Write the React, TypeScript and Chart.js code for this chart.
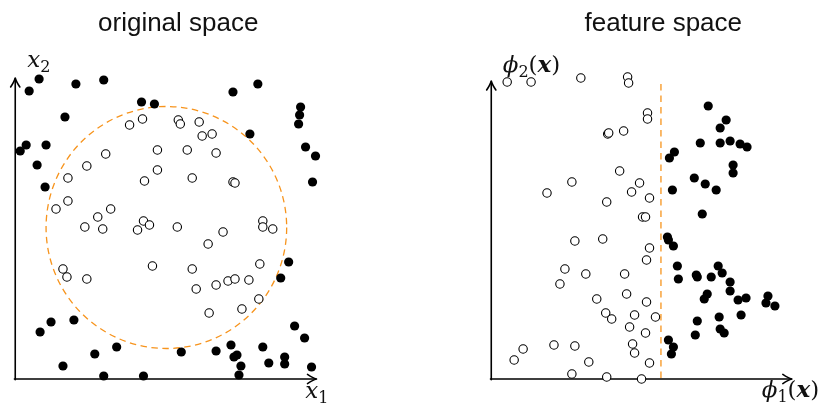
import React, { useEffect, useRef } from "react";
import { Chart, registerables } from "chart.js";

Chart.register(...registerables);

const W = 825;
const H = 405;

// ---------- original space (x1, x2) ----------
const origFilledX = [2.4, 1.4, 6.1, 8.9, 12.7, 14.0, 5.0, 1.1, 0.5, 3.1, 2.2, 3.0, 21.9, 24.4, 28.7, 28.6, 28.5, 23.6, 29.2, 30.2, 29.9, 3.6, 5.9, 2.5, 10.2, 8.0, 4.8, 8.9, 12.9, 27.5, 26.7, 28.1, 29.1, 16.7, 20.2, 21.7, 22.0, 22.3, 22.7, 22.5, 24.9, 25.5, 27.1, 27.1, 29.8];
const origFilledY = [30.0, 28.8, 29.5, 29.9, 27.7, 27.5, 26.2, 23.4, 22.8, 23.4, 21.4, 19.2, 28.7, 29.5, 27.2, 26.4, 25.5, 24.5, 23.2, 22.3, 19.7, 5.7, 5.9, 4.7, 3.2, 2.5, 1.3, 0.3, 0.3, 11.7, 10.1, 5.3, 4.1, 2.7, 2.8, 3.4, 2.2, 2.4, 1.3, 0.4, 3.2, 1.6, 2.2, 1.5, 1.2];
const origOpenX = [11.5, 12.8, 14.3, 9.1, 7.2, 14.3, 5.3, 13.0, 5.3, 4.1, 9.6, 8.3, 12.9, 13.5, 7.0, 8.8, 12.3, 13.8, 4.8, 5.2, 7.2, 16.4, 16.6, 18.5, 18.8, 19.8, 17.3, 20.2, 17.8, 21.9, 22.1, 24.9, 16.3, 20.9, 24.9, 25.9, 19.4, 17.8, 24.6, 18.2, 20.2, 21.4, 22.1, 23.5, 24.5, 19.5, 22.8];
const origOpenY = [25.4, 26.0, 22.9, 22.5, 21.3, 20.9, 20.1, 19.8, 17.8, 17.0, 17.0, 16.2, 15.8, 15.4, 15.2, 15.0, 14.9, 11.3, 11.0, 10.2, 10.0, 25.9, 25.5, 25.7, 24.3, 24.5, 22.9, 22.6, 20.1, 19.7, 19.6, 15.8, 15.2, 14.7, 15.2, 15.0, 13.5, 11.0, 11.5, 9.0, 9.4, 9.8, 10.0, 9.9, 8.0, 6.6, 7.0];

// decision boundary in original space: circle centre and radius
const circleCenter = [15.2, 15.15];
const circleRadius = 12.1;

// ---------- feature space (phi1, phi2) ----------
const featFilledX = [21.8, 23.6, 23.0, 21.0, 23.0, 24.0, 25.0, 25.7, 18.4, 17.9, 24.3, 24.3, 20.4, 21.5, 22.6, 18.2, 21.2, 17.7, 17.8, 18.3, 18.7, 18.8, 20.6, 20.7, 22.1, 22.8, 23.2, 24.0, 24.0, 21.7, 21.4, 24.8, 25.6, 27.8, 27.6, 28.5, 25.1, 22.9, 20.7, 23.0, 23.4, 20.5, 17.8, 18.3, 18.1];
const featFilledY = [27.3, 25.9, 25.1, 23.6, 23.6, 23.8, 23.5, 23.2, 22.7, 22.1, 21.4, 20.6, 20.1, 19.5, 18.9, 18.9, 16.5, 14.2, 13.9, 13.3, 11.3, 10.0, 10.4, 10.2, 10.2, 11.3, 10.6, 9.7, 8.8, 8.5, 8.0, 7.9, 8.1, 8.3, 7.6, 7.3, 6.4, 6.2, 5.8, 5.0, 4.6, 4.4, 3.9, 3.2, 2.5];
const featOpenX = [1.6, 4.0, 9.0, 13.7, 13.8, 15.7, 15.7, 11.7, 11.8, 13.3, 12.9, 8.1, 5.6, 14.9, 14.1, 11.6, 15.9, 15.2, 15.5, 8.4, 11.2, 15.9, 15.6, 7.4, 9.5, 13.4, 6.9, 13.6, 15.6, 10.6, 11.5, 12.1, 14.4, 16.5, 13.9, 15.5, 14.2, 14.4, 3.2, 2.3, 6.3, 8.4, 9.8, 15.9, 8.1, 11.6, 15.1];
const featOpenY = [29.7, 29.7, 30.1, 30.2, 29.6, 26.6, 26.0, 24.5, 24.6, 24.8, 20.8, 19.7, 18.6, 19.6, 18.7, 17.7, 18.1, 16.2, 16.2, 13.8, 14.0, 13.1, 11.9, 11.0, 10.5, 10.5, 9.5, 8.5, 7.7, 8.0, 6.6, 6.0, 6.4, 6.2, 5.2, 4.6, 3.5, 2.6, 3.0, 1.9, 3.4, 3.3, 1.7, 1.6, 0.5, 0.2, 0.0];

// decision boundary in feature space: phi1 = const
const boundaryPhi1 = 17.05;
const boundaryTop = 29.5;

const ORANGE = "#f7941d";

type Part = { text: string; font: string; dy?: number };

function drawParts(ctx: CanvasRenderingContext2D, parts: Part[], x: number, y: number) {
  let cx = x;
  ctx.textAlign = "left";
  ctx.textBaseline = "alphabetic";
  for (const p of parts) {
    ctx.font = p.font;
    ctx.fillText(p.text, cx, y + (p.dy || 0));
    cx += ctx.measureText(p.text).width;
  }
}

function drawArrow(ctx: CanvasRenderingContext2D, x0: number, y0: number, x1: number, y1: number) {
  const dx = x1 - x0;
  const dy = y1 - y0;
  const len = Math.hypot(dx, dy);
  const ux = dx / len;
  const uy = dy / len;
  const nx = -uy;
  const ny = ux;
  ctx.save();
  ctx.strokeStyle = "#000";
  ctx.lineWidth = 1.6;
  ctx.lineCap = "round";
  ctx.lineJoin = "round";
  ctx.beginPath();
  ctx.moveTo(x0, y0);
  ctx.lineTo(x1 - ux * 0.8, y1 - uy * 0.8);
  ctx.stroke();
  const back = 9;
  const half = 4.6;
  ctx.beginPath();
  ctx.moveTo(x1 - ux * back + nx * half, y1 - uy * back + ny * half);
  ctx.quadraticCurveTo(x1 - ux * 3.5 + nx * 0.9, y1 - uy * 3.5 + ny * 0.9, x1, y1);
  ctx.quadraticCurveTo(x1 - ux * 3.5 - nx * 0.9, y1 - uy * 3.5 - ny * 0.9, x1 - ux * back - nx * half, y1 - uy * back - ny * half);
  ctx.stroke();
  ctx.restore();
}

type Panel = {
  filledX: number[];
  filledY: number[];
  openX: number[];
  openY: number[];
  xMin: number;
  xMax: number;
  yMin: number;
  yMax: number;
  padLeft: number;
  padRight: number;
  axisEndX: number;
  axisEndY: number;
  boundary: (ctx: CanvasRenderingContext2D, sx: any, sy: any) => void;
  labels: (ctx: CanvasRenderingContext2D, ox: number, oy: number) => void;
};

const SANS = '"Liberation Sans", Arial, sans-serif';
const SERIF = '"DejaVu Serif", "Liberation Serif", serif';

const panels: Panel[] = [
  {
    filledX: origFilledX,
    filledY: origFilledY,
    openX: origOpenX,
    openY: origOpenY,
    xMin: -1,
    xMax: 39,
    yMin: -2,
    yMax: 35,
    padLeft: 3,
    padRight: 422,
    axisEndX: 30.3,
    axisEndY: 30.1,
    boundary: (ctx, sx, sy) => {
      const cx = sx.getPixelForValue(circleCenter[0]);
      const cy = sy.getPixelForValue(circleCenter[1]);
      const rx = Math.abs(sx.getPixelForValue(circleCenter[0] + circleRadius) - cx);
      const ry = Math.abs(sy.getPixelForValue(circleCenter[1] + circleRadius) - cy);
      ctx.save();
      ctx.strokeStyle = ORANGE;
      ctx.lineWidth = 1.3;
      ctx.setLineDash([6.5, 4.5]);
      ctx.beginPath();
      ctx.ellipse(cx, cy, rx, ry, 0, 0, Math.PI * 2);
      ctx.stroke();
      ctx.restore();
    },
    labels: (ctx, ox, oy) => {
      ctx.fillStyle = "#111";
      ctx.font = `26px ${SANS}`;
      ctx.textAlign = "center";
      ctx.textBaseline = "alphabetic";
      ctx.fillText("original space", ox + 163, oy - 348);
      drawParts(ctx, [
        { text: "x", font: `italic 23px ${SERIF}` },
        { text: "2", font: `16px ${SERIF}`, dy: 5 },
      ], ox + 12, oy - 312);
      drawParts(ctx, [
        { text: "x", font: `italic 23px ${SERIF}` },
        { text: "1", font: `16px ${SERIF}`, dy: 5 },
      ], ox + 290, oy + 19);
    },
  },
  {
    filledX: featFilledX,
    filledY: featFilledY,
    openX: featOpenX,
    openY: featOpenY,
    xMin: -5,
    xMax: 33,
    yMin: -2,
    yMax: 35,
    padLeft: 441.5,
    padRight: 3.5,
    axisEndX: 30.2,
    axisEndY: 29.8,
    boundary: (ctx, sx, sy) => {
      const x = sx.getPixelForValue(boundaryPhi1);
      ctx.save();
      ctx.strokeStyle = ORANGE;
      ctx.lineWidth = 1.3;
      ctx.setLineDash([6.5, 5]);
      ctx.beginPath();
      ctx.moveTo(x, sy.getPixelForValue(boundaryTop));
      ctx.lineTo(x, sy.getPixelForValue(0));
      ctx.stroke();
      ctx.restore();
    },
    labels: (ctx, ox, oy) => {
      ctx.fillStyle = "#111";
      ctx.font = `26px ${SANS}`;
      ctx.textAlign = "center";
      ctx.textBaseline = "alphabetic";
      ctx.fillText("feature space", ox + 172, oy - 348);
      drawParts(ctx, [
        { text: "\u03D5", font: `italic 23px ${SERIF}` },
        { text: "2", font: `16px ${SERIF}`, dy: 5 },
        { text: "(", font: `23px ${SERIF}` },
        { text: "x", font: `italic bold 23px ${SERIF}` },
        { text: ")", font: `23px ${SERIF}` },
      ], ox + 11.5, oy - 307);
      drawParts(ctx, [
        { text: "\u03D5", font: `italic 23px ${SERIF}` },
        { text: "1", font: `16px ${SERIF}`, dy: 5 },
        { text: "(", font: `23px ${SERIF}` },
        { text: "x", font: `italic bold 23px ${SERIF}` },
        { text: ")", font: `23px ${SERIF}` },
      ], ox + 270.5, oy + 18);
    },
  },
];

function zip(xs: number[], ys: number[]) {
  return xs.map((x, i) => ({ x, y: ys[i] }));
}

function PanelChart({ panel }: { panel: Panel }) {
  const ref = useRef<HTMLCanvasElement | null>(null);
  useEffect(() => {
    if (!ref.current) return;
    const deco = {
      id: "deco",
      beforeDatasetsDraw(chart: any) {
        const ctx = chart.ctx as CanvasRenderingContext2D;
        const sx = chart.scales.x;
        const sy = chart.scales.y;
        panel.boundary(ctx, sx, sy);
        const ox = sx.getPixelForValue(0);
        const oy = sy.getPixelForValue(0);
        drawArrow(ctx, ox - 0.8, oy, sx.getPixelForValue(panel.axisEndX), oy);
        drawArrow(ctx, ox, oy + 0.8, ox, sy.getPixelForValue(panel.axisEndY));
      },
      afterDraw(chart: any) {
        const ctx = chart.ctx as CanvasRenderingContext2D;
        const sx = chart.scales.x;
        const sy = chart.scales.y;
        ctx.save();
        panel.labels(ctx, sx.getPixelForValue(0), sy.getPixelForValue(0));
        ctx.restore();
      },
    };
    const chart = new Chart(ref.current, {
      type: "scatter",
      data: {
        datasets: [
          {
            label: "open",
            data: zip(panel.openX, panel.openY),
            pointRadius: 4.2,
            pointBackgroundColor: "#ffffff",
            pointBorderColor: "#000000",
            pointBorderWidth: 1.1,
          },
          {
            label: "filled",
            data: zip(panel.filledX, panel.filledY),
            pointRadius: 4.6,
            pointBackgroundColor: "#000000",
            pointBorderColor: "#000000",
            pointBorderWidth: 0,
          },
        ],
      },
      options: {
        responsive: false,
        animation: false,
        devicePixelRatio: 1,
        layout: { padding: { left: panel.padLeft, right: panel.padRight, top: 29, bottom: 6 } },
        plugins: { legend: { display: false }, tooltip: { enabled: false }, title: { display: false } },
        events: [],
        scales: {
          x: { type: "linear", min: panel.xMin, max: panel.xMax, display: false },
          y: { type: "linear", min: panel.yMin, max: panel.yMax, display: false },
        },
      },
      plugins: [deco],
    });
    return () => chart.destroy();
  }, [panel]);
  return (
    <canvas
      ref={ref}
      width={W}
      height={H}
      style={{ position: "absolute", left: 0, top: 0, width: W, height: H }}
    />
  );
}

export default function App() {
  return (
    <div style={{ position: "fixed", left: 0, top: 0, width: W, height: H, background: "#fff", overflow: "hidden" }}>
      {panels.map((p, i) => (
        <PanelChart key={i} panel={p} />
      ))}
    </div>
  );
}
